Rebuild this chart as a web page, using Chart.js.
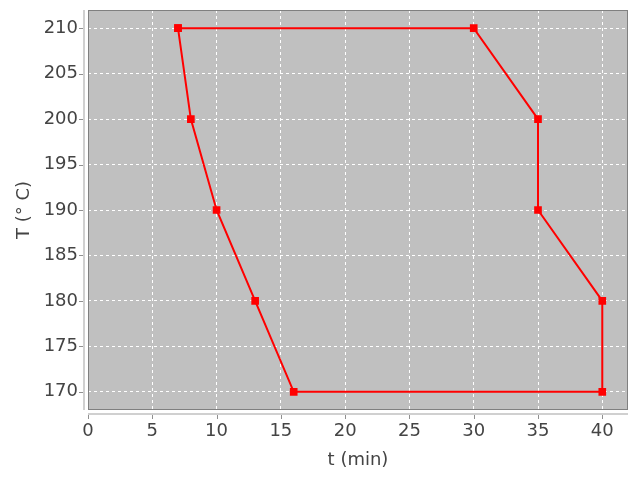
<!DOCTYPE html>
<html>
<head>
<meta charset="utf-8">
<script src="https://cdn.jsdelivr.net/npm/chart.js@4"></script>
<style>
  html, body { margin: 0; padding: 0; background: #fff; }
  #wrap { width: 640px; height: 480px; }
</style>
</head>
<body>
<div id="wrap"><canvas id="myChart" width="640" height="480"></canvas></div>
<script>
// process cycle
const timeMin = [7, 8, 10, 13, 16, 40, 40, 35, 35, 30, 7];
const tempC = [210, 200, 190, 180, 170, 170, 180, 190, 200, 210, 210];
const xTicks = [0, 5, 10, 15, 20, 25, 30, 35, 40];
const yTicks = [170, 175, 180, 185, 190, 195, 200, 205, 210];

const points = timeMin.map((t, i) => ({ x: t, y: tempC[i] }));

const tickFont = { family: 'DejaVu Sans, sans-serif', size: 18 };

// gray plot background, plot border, offset axis lines and tick marks
const plotFrame = {
    id: 'plotFrame',
    beforeDraw(chart) {
        const { ctx, chartArea: a } = chart;
        ctx.save();
        ctx.fillStyle = '#c0c0c0';
        ctx.fillRect(a.left, a.top, a.right - a.left, a.bottom - a.top);
        ctx.restore();
    },
    beforeDatasetsDraw(chart) {
        const { ctx, chartArea: a, scales } = chart;
        ctx.save();
        ctx.strokeStyle = '#808080';
        ctx.lineWidth = 1;
        ctx.strokeRect(a.left + 0.5, a.top + 0.5, a.right - a.left - 1, a.bottom - a.top - 1);

        // axis lines, set a little off the plot
        ctx.strokeStyle = '#d0d0d0';
        ctx.lineWidth = 2;
        ctx.beginPath();
        ctx.moveTo(a.left - 4, a.top);
        ctx.lineTo(a.left - 4, a.bottom);
        ctx.moveTo(a.left, a.bottom + 4);
        ctx.lineTo(a.right, a.bottom + 4);
        ctx.stroke();

        ctx.strokeStyle = '#909090';
        ctx.lineWidth = 1;
        ctx.beginPath();
        xTicks.forEach(v => {
            const px = Math.round(scales.x.getPixelForValue(v)) + 0.5;
            ctx.moveTo(px, a.bottom + 5);
            ctx.lineTo(px, a.bottom + 9);
        });
        yTicks.forEach(v => {
            const py = Math.round(scales.y.getPixelForValue(v)) + 0.5;
            ctx.moveTo(a.left - 5, py);
            ctx.lineTo(a.left - 9, py);
        });
        ctx.stroke();
        ctx.restore();
    }
};

const config = {
    type: 'scatter',
    data: {
        datasets: [{
            label: 'T',
            data: points,
            showLine: true,
            borderColor: '#ff0000',
            backgroundColor: '#ff0000',
            borderWidth: 2,
            tension: 0,
            pointStyle: 'rect',
            pointRadius: 4,
            pointHoverRadius: 4
        }]
    },
    options: {
        responsive: false,
        animation: false,
        events: [],
        layout: { padding: { top: 10, right: 12, left: 0, bottom: 0 } },
        plugins: {
            legend: { display: false },
            tooltip: { enabled: false }
        },
        scales: {
            x: {
                type: 'linear',
                min: 0,
                max: 42,
                afterFit(scale) {
                    scale.height = 70;
                    scale.paddingLeft = 0;
                    scale.paddingRight = 0;
                },
                grid: {
                    color: '#ffffff',
                    lineWidth: 1,
                    drawTicks: false
                },
                border: { display: false, dash: [3, 3] },
                ticks: {
                    stepSize: 5,
                    includeBounds: false,
                    color: '#444444',
                    font: tickFont,
                    padding: 11
                },
                title: {
                    display: true,
                    text: 't (min)',
                    color: '#444444',
                    font: tickFont,
                    padding: { top: 0, bottom: 9 }
                }
            },
            y: {
                type: 'linear',
                min: 168,
                max: 212,
                afterFit(scale) {
                    scale.width = 88;
                    scale.paddingTop = 0;
                    scale.paddingBottom = 0;
                },
                grid: {
                    color: '#ffffff',
                    lineWidth: 1,
                    drawTicks: false
                },
                border: { display: false, dash: [3, 3] },
                ticks: {
                    stepSize: 5,
                    includeBounds: false,
                    color: '#444444',
                    font: tickFont,
                    padding: 10
                },
                title: {
                    display: true,
                    text: 'T (° C)',
                    color: '#444444',
                    font: tickFont,
                    padding: { top: 14, bottom: 0 }
                }
            }
        }
    },
    plugins: [plotFrame]
};

new Chart(
    document.getElementById('myChart'),
    config
);
</script>
</body>
</html>
